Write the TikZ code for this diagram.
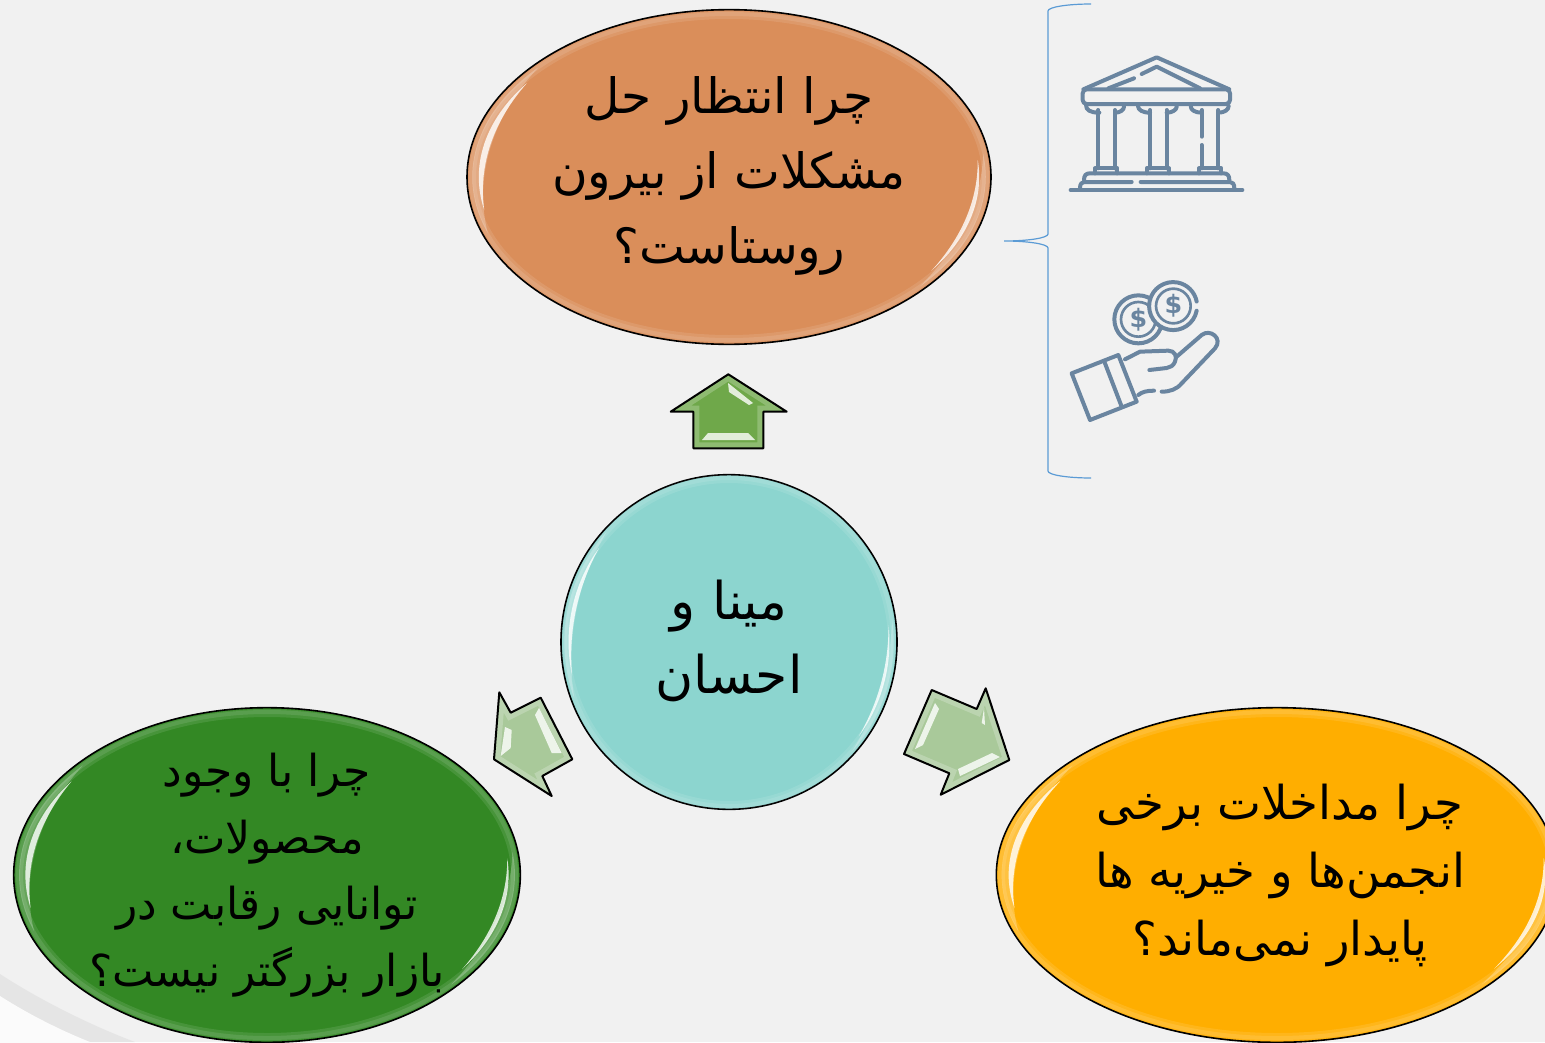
\documentclass[tikz,border=0pt]{standalone}
\usepackage{fontspec}
\usepackage{xcolor}
\TeXXeTstate=1
\newfontfamily\farsifont[Script=Arabic]{DejaVu Sans}
\newcommand{\rtlline}[1]{\beginR #1\endR}
\definecolor{pagegray}{HTML}{F1F1F1}
\definecolor{clayorange}{HTML}{DA8E5A}
\definecolor{leafgreen}{HTML}{338824}
\definecolor{sunyellow}{HTML}{FFAE00}
\definecolor{seateal}{HTML}{8CD5CF}
\definecolor{arrowgreen}{HTML}{6FA84A}
\definecolor{palegreen}{HTML}{A9C99A}
\definecolor{bracketblue}{HTML}{5B9BD5}
\definecolor{iconblue}{HTML}{6A85A0}
\usetikzlibrary{shapes.geometric}
\tikzset{
  question/.style={draw=black,line width=1.2pt,ellipse,inner sep=0pt,minimum height=251pt},
  caption/.style={align=center,text=black},
  glossrim/.style={draw=white,draw opacity=0.1,line width=#1},
  glint/.style={fill=white,fill opacity=0.8,draw=none},
  softglint/.style={fill=white,fill opacity=0.25,draw=none},
  blockarrow/.style={draw=black,line width=1.5pt,line join=round},
  iconline/.style={draw=iconblue,line width=3pt,line cap=round,line join=round},
  coinring/.style={draw=iconblue,line width=2pt},
  coinsign/.style={iconblue,font=\farsifont\fontsize{19}{19}\bfseries\selectfont},
}
% rim and the two glints of a glossy disc: centre x, centre y, radius x, radius y
\newcommand{\glossdisc}[4]{
  \draw [glossrim=6pt] (#1,#2) ellipse ({#3-5} and {#4-5});
  \draw [glossrim=3pt] (#1,#2) ellipse ({#3-4} and {#4-4});
  \begin{scope}[shift={(#1,#2)},xscale=#3,yscale=#4]
    \fill [softglint] (222:0.98) arc [start angle=222,end angle=160,radius=0.98] .. controls (180:0.975) and (202:0.975) .. cycle;
    \fill [glint] (216:0.955) arc [start angle=216,end angle=168,radius=0.955] .. controls (184:0.96) and (200:0.96) .. cycle;
    \fill [softglint] (-8:0.98) arc [start angle=-8,end angle=42,radius=0.98] .. controls (25:0.975) and (9:0.975) .. cycle;
    \fill [glint] (-6:0.955) arc [start angle=-6,end angle=36,radius=0.955] .. controls (22:0.96) and (8:0.96) .. cycle;
  \end{scope}
}
% filled block arrow with a light inner edge: colour, outline
\newcommand{\glossarrow}[2]{
  \fill [#1] #2;
  \begin{scope}
    \clip #2;
    \draw [glossrim=9pt,draw opacity=0.22] #2;
  \end{scope}
  \draw [blockarrow] #2;
}
\begin{document}
\begin{tikzpicture}[x=0.75pt,y=0.75pt,yscale=-1,xscale=1]
\useasboundingbox (0,0) rectangle (1545,1042);
\fill [pagegray] (0,0) rectangle (1545,1042);

% corner band
\fill [gray!20] (0,974) .. controls (40,1000) and (90,1025) .. (135,1042) -- (0,1042) -- cycle;
\fill [white!70!pagegray] (0,996) .. controls (30,1015) and (60,1030) .. (90,1042) -- (0,1042) -- cycle;

% Ellipses
\node [question,fill=clayorange,minimum width=393pt] (roots) at (729,177) {};
\glossdisc{729}{177}{262}{167}
\node [question,fill=leafgreen,minimum width=380pt] (market) at (267,875) {};
\glossdisc{267}{875}{253}{167}
\node [question,fill=sunyellow,minimum width=421pt] (charity) at (1277,875) {};
\glossdisc{1277}{875}{281}{167}
\node [question,fill=seateal,minimum width=252pt] (couple) at (729,642) {};
\glossdisc{729}{642}{168}{168}

% Text Node
\node at (729,176) [caption,font=\farsifont\fontsize{36.5}{56}\selectfont] (rootstext) {\rtlline{چرا انتظار حل}\\\rtlline{مشکلات از بیرون}\\\rtlline{روستاست؟}};
% Text Node
\node at (729,641) [caption,font=\farsifont\fontsize{39}{56}\selectfont] (coupletext) {\rtlline{مینا و}\\\rtlline{احسان}};
% Text Node
\node at (267,875) [caption,font=\farsifont\fontsize{33}{50}\selectfont] (markettext) {\rtlline{چرا با وجود}\\\rtlline{محصولات،}\\\rtlline{توانایی رقابت در}\\\rtlline{بازار بزرگتر نیست؟}};
% Text Node
\node at (1280,875) [caption,font=\farsifont\fontsize{35}{51}\selectfont] (charitytext) {\rtlline{چرا مداخلات برخی}\\\rtlline{انجمن‌ها و خیریه ها}\\\rtlline{پایدار نمی‌ماند؟}};

% Block arrows
\glossarrow{arrowgreen}{(728.3,374.3) -- (786.7,411.7) -- (763.3,411.7) -- (763.3,448.3) -- (693.3,448.3) -- (693.3,411.7) -- (670.7,411.7) -- cycle}
\fill [glint] (728,383) -- (753,403) -- (749,405) -- (729,392) -- cycle;
\fill [glint] (708,433) -- (748,433) -- (755,440) -- (702,440) -- cycle;
\glossarrow{palegreen}{(499.3,692.3) -- (510.7,712.7) -- (540.7,697.7) -- (572.3,759.3) -- (542.3,776) -- (551.7,796) -- (494,759.3) -- cycle}
\fill [glint] (505,727) -- (511.7,730) -- (510.7,748) -- (500.7,756) -- cycle;
\fill [glint] (535,715) -- (539,708) -- (561.7,753) -- (551.7,753) -- cycle;
\glossarrow{palegreen}{(931.7,690) -- (976.7,709) -- (985.7,688.3) -- (1009.3,760) -- (940.7,794.7) -- (949.3,773.3) -- (904,754) -- cycle}
\fill [glint] (935,703) -- (939,709) -- (923,745) -- (915,749) -- cycle;
\fill [glint] (958,769) -- (992,753) -- (1000,757) -- (960,776) -- cycle;
\fill [glint] (981.7,723) -- (984,708) -- (985,725) -- cycle;

% Bracket
\draw [bracketblue,line width=0.9pt] (1091,4) .. controls (1068,4) and (1048,7) .. (1048,11) -- (1048,234) .. controls (1048,238) and (1028,241) .. (1004,241) .. controls (1028,241) and (1048,244) .. (1048,248) -- (1048,471) .. controls (1048,475) and (1068,478) .. (1091,478);

% Bank icon
\begin{scope}[shift={(1000,0)},x=0.25pt,y=0.25pt]
\draw [iconline] (250,268) -- (470,172) -- (688,268);
\draw [iconline] (325,265) -- (402,235);
\draw [iconline] (425,222) -- (470,200) -- (600,265);
\draw [iconline,rounded corners=3pt] (248,268) rectangle (690,312);
\draw [iconline] (258,315) .. controls (258,330) and (270,338) .. (298,338);
\draw [iconline] (345,338) .. controls (360,338) and (372,330) .. (372,320);
\draw [iconline] (414,318) .. controls (414,330) and (428,338) .. (450,338);
\draw [iconline] (500,338) .. controls (516,338) and (530,330) .. (530,320);
\draw [iconline] (572,318) .. controls (572,330) and (585,338) .. (605,338);
\draw [iconline] (655,338) .. controls (672,338) and (686,330) .. (686,318);
\foreach \colx in {295,345,450,500,655} {
  \draw [iconline] (\colx,330) -- (\colx,505);
}
\draw [iconline] (605,330) -- (605,410);
\draw [iconline] (605,435) -- (605,505);
\foreach \colx in {285,440,597} {
  \draw [iconline] (\colx,520) -- (\colx,505) -- (\colx+67,505) -- (\colx+67,520);
}
\draw [iconline] (252,540) .. controls (252,526) and (258,520) .. (270,520) -- (670,520) .. controls (682,520) and (688,526) .. (688,540);
\draw [iconline] (240,565) .. controls (240,552) and (245,546) .. (252,546) -- (395,546);
\draw [iconline] (422,546) -- (690,546) .. controls (698,546) and (703,552) .. (703,565);
\draw [iconline] (212,570) -- (727,570);

% Hand icon
\draw [iconline] (215,1120) -- (355,1065) -- (410,1205) -- (270,1260) -- cycle;
\draw [iconline] (315,1090) -- (365,1220);
\draw [iconline] (375,1078) -- (420,1055) -- (505,1052) .. controls (525,1052) and (532,1070) .. (525,1085) .. controls (520,1098) and (510,1102) .. (500,1104) -- (448,1110);
\draw [iconline] (530,1070) -- (605,1005) .. controls (630,985) and (670,1015) .. (645,1045) -- (545,1150) .. controls (530,1168) and (510,1175) .. (485,1175);
\draw [iconline] (415,1185) .. controls (425,1176) and (440,1172) .. (462,1172);
\draw [iconline] (415,958) circle [radius=72];
\draw [coinring] (415,958) circle [radius=52];
\fill [pagegray] (520,918) circle [radius=72];
\draw [iconline] (590,932) arc [start angle=11,end angle=349,radius=72];
\draw [coinring] (520,918) circle [radius=52];
\node [coinsign] (coinone) at (415,958) {\$};
\node [coinsign] (cointwo) at (520,918) {\$};
\end{scope}
\end{tikzpicture}
\end{document}
